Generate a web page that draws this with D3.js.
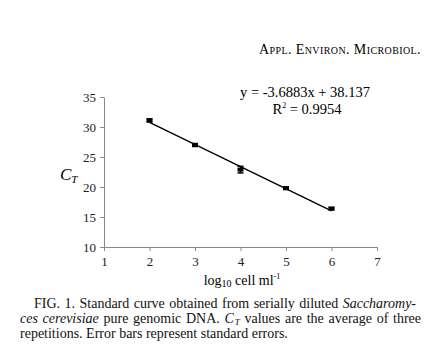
<!DOCTYPE html>
<html><head><meta charset="utf-8">
<script src="https://cdn.jsdelivr.net/npm/d3@7/dist/d3.min.js"></script>
<style>
body{margin:0;background:#fff;}
svg{font-family:"Liberation Serif","Times New Roman",serif;}
</style></head>
<body><div id="chart"></div>
<script>
const logCells = [2, 3, 4, 5, 6];
const ctValues = [31.1, 27.0, 22.9, 19.8, 16.4];
const ctErrors = [0.25, 0.25, 0.55, 0.2, 0.2];
const xTicks = [1, 2, 3, 4, 5, 6, 7];
const yTicks = [10, 15, 20, 25, 30, 35];
const slope = -3.6883, intercept = 38.137;

const W = 446, H = 357;
const svg = d3.select("#chart").append("svg").attr("width", W).attr("height", H);
const x = d3.scaleLinear().domain([1, 7]).range([104, 377]);
const y = d3.scaleLinear().domain([10, 35]).range([247, 97]);

// Header
svg.append("text").attr("x", 421).attr("y", 54).attr("text-anchor", "end")
  .attr("font-size", 14).style("font-variant", "small-caps").style("letter-spacing", "0.4px")
  .text("Appl. Environ. Microbiol.");

// Axes
const gx = svg.append("g").attr("transform", `translate(0,${y(10)})`)
  .call(d3.axisBottom(x).tickValues(xTicks).tickFormat(d3.format("d")).tickSize(4).tickSizeOuter(0));
const gy = svg.append("g").attr("transform", `translate(${x(1)},0)`)
  .call(d3.axisLeft(y).tickValues(yTicks).tickFormat(d3.format("d")).tickSize(4).tickSizeOuter(0));
[gx, gy].forEach(g => {
  g.select(".domain").attr("stroke", "#888");
  g.selectAll(".tick line").attr("stroke", "#888");
  g.selectAll("text").attr("font-family", "Liberation Serif").attr("font-size", 13).attr("fill", "#222");
});
gx.selectAll("text").attr("dy", "0.95em");
gy.selectAll("text").attr("dx", "-1px");

// Regression line
svg.append("line")
  .attr("x1", x(2)).attr("y1", y(intercept + slope * 2))
  .attr("x2", x(6)).attr("y2", y(intercept + slope * 6))
  .attr("stroke", "#000").attr("stroke-width", 1.4);

// Error bars & markers
const pts = logCells.map((v, i) => ({x: v, y: ctValues[i], e: ctErrors[i]}));
const g = svg.append("g");
pts.forEach(p => {
  const cx = x(p.x);
  g.append("line").attr("x1", cx).attr("x2", cx).attr("y1", y(p.y - p.e)).attr("y2", y(p.y + p.e)).attr("stroke", "#000").attr("stroke-width", 1.5);
  [p.y - p.e, p.y + p.e].forEach(v => g.append("line").attr("x1", cx - 3).attr("x2", cx + 3).attr("y1", y(v)).attr("y2", y(v)).attr("stroke", "#000").attr("stroke-width", 1.5));
  g.append("rect").attr("x", cx - 3).attr("y", y(p.y) - 2).attr("width", 6).attr("height", 4).attr("fill", "#000");
});

// Equation
svg.append("text").attr("x", 305).attr("y", 97).attr("text-anchor", "middle").attr("font-size", 14.5)
  .text("y = -3.6883x + 38.137");
const r2 = svg.append("text").attr("x", 307).attr("y", 114).attr("text-anchor", "middle").attr("font-size", 14.5);
r2.append("tspan").text("R");
r2.append("tspan").attr("font-size", 8).attr("dy", -6).text("2");
r2.append("tspan").attr("dy", 6).text(" = 0.9954");

// Y label
const yl = svg.append("text").attr("x", 60).attr("y", 180).attr("font-size", 17).attr("font-style", "italic");
yl.append("tspan").text("C");
yl.append("tspan").attr("font-size", 11).attr("dy", 3).text("T");

// X label
const xl = svg.append("text").attr("x", 242).attr("y", 285).attr("text-anchor", "middle").attr("font-size", 14);
xl.append("tspan").text("log");
xl.append("tspan").attr("font-size", 10).attr("dy", 2).text("10");
xl.append("tspan").attr("dy", -2).text(" cell ml");
xl.append("tspan").attr("font-size", 8).attr("dy", -6).text("-1");

// Caption (justified with word-spacing)
function justify(t, x0, target) {
  const txt = t.text();
  const spaces = (txt.match(/ /g) || []).length;
  const len = t.node().getComputedTextLength();
  const ws = Math.max(0, (target - x0 - len) / spaces);
  t.attr("word-spacing", ws);
}
const cap = svg.append("g").attr("font-size", 14).attr("fill", "#111");
const l1 = cap.append("text").attr("x", 34).attr("y", 308);
l1.append("tspan").text("FIG. 1.  Standard curve obtained from serially diluted ");
l1.append("tspan").attr("font-style", "italic").text("Saccharomy-");
justify(l1, 34, 417);
const l2 = cap.append("text").attr("x", 20).attr("y", 323);
l2.append("tspan").attr("font-style", "italic").text("ces cerevisiae");
l2.append("tspan").text(" pure genomic DNA. ");
l2.append("tspan").attr("font-style", "italic").text("C");
l2.append("tspan").attr("font-style", "italic").attr("font-size", 9).attr("dx", 1).attr("dy", 1.5).text("T");
l2.append("tspan").attr("dy", -1.5).text(" values are the average of three");
justify(l2, 20, 420);
cap.append("text").attr("x", 20).attr("y", 338)
  .text("repetitions. Error bars represent standard errors.");
</script></body></html>
